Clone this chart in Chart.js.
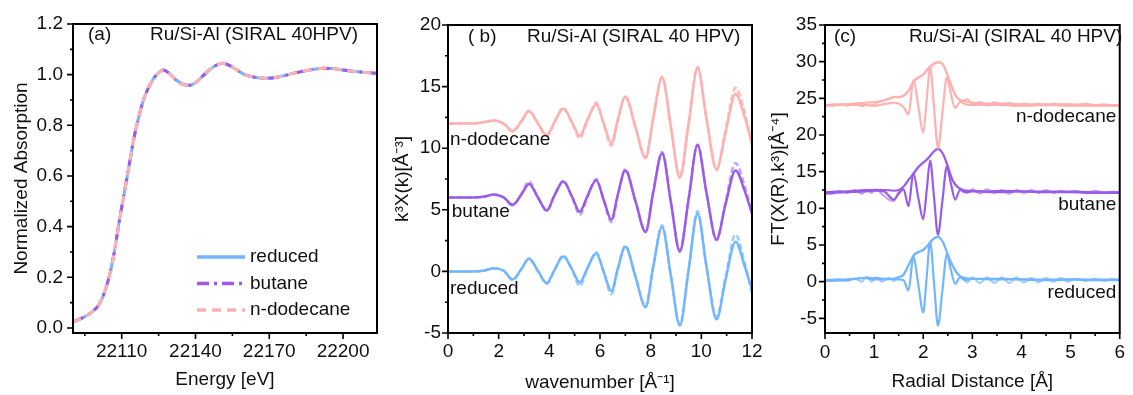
<!DOCTYPE html>
<html>
<head>
<meta charset="utf-8">
<script src="https://cdn.jsdelivr.net/npm/chart.js@4.4.1/dist/chart.umd.min.js"></script>
<style>
  body { margin: 0; background: #fff; width: 1133px; height: 395px; position: relative; overflow: hidden; }
  canvas { position: absolute; top: 0; }
</style>
</head>
<body>
<canvas id="chartA" width="380" height="395" style="left:0px"></canvas>
<canvas id="chartB" width="400" height="395" style="left:380px"></canvas>
<canvas id="chartC" width="373" height="395" style="left:760px"></canvas>
<script>
// ---- panel (a): XANES ----
const energy = [22090, 22093, 22096, 22099, 22101, 22103, 22105, 22107, 22109, 22111, 22113, 22115, 22117, 22119, 22121, 22123, 22125.5, 22127, 22129, 22132, 22135, 22137.5, 22140, 22143, 22146, 22149, 22151, 22154, 22157, 22160, 22164, 22168, 22172, 22176, 22180, 22184, 22188, 22192, 22196, 22200, 22204, 22208, 22214];
const muReduced  = [0.024, 0.035, 0.050, 0.072, 0.095, 0.140, 0.205, 0.300, 0.420, 0.530, 0.640, 0.750, 0.835, 0.905, 0.950, 0.985, 1.012, 1.018, 1.008, 0.980, 0.962, 0.958, 0.968, 0.995, 1.022, 1.040, 1.045, 1.036, 1.018, 1.000, 0.990, 0.986, 0.988, 0.996, 1.006, 1.014, 1.021, 1.025, 1.024, 1.018, 1.013, 1.010, 1.005];
const muButane   = [0.024, 0.035, 0.050, 0.072, 0.096, 0.141, 0.206, 0.301, 0.421, 0.531, 0.641, 0.750, 0.835, 0.905, 0.950, 0.985, 1.012, 1.018, 1.008, 0.980, 0.962, 0.958, 0.968, 0.995, 1.022, 1.040, 1.045, 1.036, 1.018, 1.000, 0.990, 0.986, 0.988, 0.996, 1.006, 1.014, 1.021, 1.025, 1.024, 1.018, 1.013, 1.010, 1.005];
const muDodecane = [0.024, 0.035, 0.050, 0.072, 0.095, 0.140, 0.205, 0.299, 0.419, 0.529, 0.640, 0.749, 0.835, 0.905, 0.950, 0.985, 1.012, 1.018, 1.008, 0.980, 0.962, 0.958, 0.968, 0.995, 1.022, 1.040, 1.045, 1.036, 1.018, 1.000, 0.990, 0.986, 0.988, 0.996, 1.006, 1.014, 1.021, 1.025, 1.024, 1.018, 1.013, 1.010, 1.005];
const eMajor = [22110, 22140, 22170, 22200];
const eMinor = [22095, 22125, 22155, 22185];
const muMajor = [0.0, 0.2, 0.4, 0.6, 0.8, 1.0, 1.2];
const muMinor = [0.1, 0.3, 0.5, 0.7, 0.9, 1.1];

// ---- panel (b): k^3 chi(k), offset by 0 / 6 / 12 ----
const kGrid = [0, 0.5, 1.0, 1.5, 1.8, 2.2, 2.55, 2.9, 3.2, 3.55, 3.9, 4.2, 4.55, 4.9, 5.2, 5.5, 5.85, 6.15, 6.45, 6.7, 7.0, 7.4, 7.8, 8.1, 8.45, 8.8, 9.15, 9.5, 9.85, 10.2, 10.6, 10.95, 11.35, 11.7, 12.0];
const chiReducedFit   = [0, 0, 0, 0.1, 0.25, 0.05, -0.65, 0.2, 1.05, 0.05, -0.95, 0.1, 1.2, 0.15, -0.9, 0.25, 1.45, -0.05, -1.6, 0.2, 2.0, -0.45, -2.9, 0.35, 3.6, -0.4, -4.4, 0.15, 4.7, 0.4, -3.9, -0.75, 2.4, 0.5, -1.5];
const chiReducedData  = [0, 0, 0, 0.1, 0.25, 0.05, -0.7, 0.2, 1.0, 0.0, -1.0, 0.1, 1.3, 0.1, -1.2, 0.2, 1.55, -0.1, -1.85, 0.15, 2.1, -0.4, -2.85, 0.4, 3.75, -0.35, -4.3, 0.2, 4.9, 0.5, -3.7, -0.5, 3.0, 0.8, -1.8];
const chiButaneFit    = [6.0, 6.0, 6.0, 6.1, 6.25, 6.0, 5.4, 6.25, 7.1, 6.0, 4.95, 6.15, 7.3, 6.05, 4.85, 6.1, 7.4, 5.8, 4.2, 6.2, 8.2, 5.7, 3.2, 6.4, 9.6, 5.6, 1.6, 5.9, 10.25, 6.4, 2.6, 5.4, 8.2, 6.6, 4.7];
const chiButaneData   = [6.0, 6.0, 6.0, 6.1, 6.25, 6.0, 5.35, 6.3, 7.3, 6.0, 4.9, 6.2, 7.35, 6.0, 4.6, 6.0, 7.5, 5.7, 4.0, 6.1, 8.3, 5.7, 3.25, 6.45, 9.7, 5.6, 1.7, 5.9, 10.3, 6.5, 2.5, 5.6, 8.8, 7.0, 4.8];
const chiDodecaneFit  = [12.0, 12.0, 12.0, 12.15, 12.25, 12.0, 11.4, 12.2, 13.0, 12.0, 11.05, 12.1, 13.2, 12.1, 11.0, 12.3, 13.55, 12.0, 10.4, 12.3, 14.15, 11.7, 9.2, 12.4, 15.75, 11.7, 7.6, 12.0, 16.5, 12.4, 8.3, 11.2, 14.4, 12.6, 10.4];
const chiDodecaneData = [12.0, 12.0, 12.0, 12.15, 12.25, 12.0, 11.35, 12.2, 13.05, 12.0, 11.0, 12.1, 13.3, 12.0, 10.8, 12.2, 13.7, 11.9, 10.2, 12.2, 14.2, 11.7, 9.25, 12.5, 15.8, 11.7, 7.7, 12.1, 16.6, 12.5, 8.2, 11.4, 14.9, 13.0, 10.2];
const kMajor = [0, 2, 4, 6, 8, 10, 12];
const kMinor = [1, 3, 5, 7, 9, 11];
const chiMajor = [-5, 0, 5, 10, 15, 20];
const chiMinor = [-2.5, 2.5, 7.5, 12.5, 17.5];

// ---- panel (c): FT, offset by 0 / 12 / 24 ----
const rMag = [0, 0.2, 0.4, 0.6, 0.8, 1.0, 1.2, 1.4, 1.5, 1.6, 1.7, 1.8, 1.9, 2.0, 2.1, 2.2, 2.3, 2.4, 2.5, 2.6, 2.7, 2.8, 3.0, 3.3, 3.6, 4.0, 4.5, 5.0, 5.5, 6.0];
const magReduced  = [0.2, 0.3, 0.3, 0.4, 0.5, 0.5, 0.4, 0.4, 0.6, 1.0, 2.2, 3.5, 4.0, 4.3, 5.0, 5.8, 6.1, 5.4, 3.7, 2.2, 1.1, 0.6, 0.4, 0.4, 0.4, 0.3, 0.3, 0.3, 0.3, 0.3];
const magButane   = [12.2, 12.3, 12.3, 12.4, 12.5, 12.5, 12.5, 12.4, 12.5, 13.0, 13.9, 14.7, 15.6, 16.2, 16.8, 17.6, 18.1, 17.4, 15.7, 13.8, 12.9, 12.5, 12.4, 12.3, 12.4, 12.3, 12.3, 12.3, 12.2, 12.2];
const magDodecane = [24.1, 24.2, 24.2, 24.3, 24.4, 24.5, 24.7, 25.1, 25.2, 25.3, 26.0, 27.2, 27.8, 28.2, 29.0, 29.6, 29.9, 29.6, 28.0, 26.2, 25.0, 24.7, 24.4, 24.3, 24.3, 24.2, 24.2, 24.2, 24.1, 24.1];
const rRe = [0, 0.4, 0.8, 1.0, 1.2, 1.4, 1.5, 1.6, 1.7, 1.8, 1.9, 2.0, 2.07, 2.14, 2.22, 2.3, 2.39, 2.48, 2.56, 2.65, 2.75, 2.85, 3.0, 3.5, 4.0, 4.5, 5.0, 5.5, 6.0];
const reReduced  = [0.1, 0.2, 0.5, 0.3, 0.3, 0.4, 0.3, 0.2, -1.2, 3.4, -0.4, -4.2, 0.6, 5.5, -0.2, -6.0, -1.2, 3.7, 1.7, -0.3, 0.6, 0.2, 0.4, 0.3, 0.3, 0.2, 0.3, 0.2, 0.2];
const reButane   = [12.0, 12.2, 12.3, 12.4, 12.3, 11.2, 12.0, 12.6, 10.3, 14.8, 11.4, 8.5, 12.4, 16.5, 11.5, 6.4, 11.0, 15.7, 13.5, 11.2, 12.5, 12.2, 12.3, 12.2, 12.3, 12.2, 12.2, 12.1, 12.1];
const reDodecane = [24.0, 24.1, 24.1, 24.0, 24.2, 24.4, 24.3, 23.8, 22.8, 27.5, 23.9, 20.3, 24.8, 29.3, 23.7, 18.2, 23.0, 27.8, 25.7, 23.7, 24.5, 24.2, 24.1, 24.1, 24.0, 24.1, 24.0, 24.0, 24.0];
const rRip = [0, 0.15, 0.3, 0.45, 0.6, 0.75, 0.85, 0.95, 1.05, 1.15, 1.3, 1.4, 1.5, 1.6, 1.7, 1.8, 1.9, 2.0, 2.1, 2.2, 2.3, 2.4, 2.5, 2.6, 2.7, 2.8, 2.9, 3.0, 3.15, 3.3, 3.45, 3.6, 3.75, 3.9, 4.05, 4.2, 4.35, 4.5, 4.65, 4.8, 4.95, 5.1, 5.3, 5.5, 5.7, 5.85, 6.0];
const ripReduced  = [0.2, 0.1, 0.3, 0.1, 0.4, 0.0, 0.7, 0.0, 0.6, 0.0, 0.5, 0.1, 0.6, 0.9, 2.3, 3.6, 4.1, 4.4, 5.0, 5.8, 6.2, 5.4, 3.7, 2.1, 1.0, 0.5, -0.1, 0.6, -0.2, 0.6, -0.2, 0.6, -0.2, 0.6, -0.1, 0.5, -0.1, 0.5, 0.0, 0.5, 0.0, 0.4, 0.1, 0.4, 0.1, 0.4, 0.2];
const ripButane   = [12.2, 12.0, 12.4, 12.1, 12.5, 12.0, 12.5, 12.1, 12.6, 12.0, 11.2, 11.0, 12.3, 12.9, 13.8, 14.8, 15.7, 16.3, 16.9, 17.7, 18.2, 17.5, 15.8, 13.8, 12.9, 12.6, 12.1, 12.6, 12.0, 12.6, 12.1, 12.5, 12.0, 12.5, 12.1, 12.5, 12.1, 12.5, 12.1, 12.4, 12.2, 12.4, 12.1, 12.4, 12.1, 12.3, 12.1];
const ripDodecane = [24.1, 24.0, 24.2, 24.0, 24.3, 23.9, 24.2, 24.0, 24.4, 24.6, 25.0, 25.2, 25.1, 25.4, 26.1, 27.3, 27.9, 28.3, 29.1, 29.7, 30.0, 29.7, 28.1, 26.3, 25.0, 24.6, 24.9, 24.2, 24.5, 24.0, 24.5, 24.1, 24.4, 24.0, 24.3, 24.1, 24.3, 24.0, 24.3, 24.1, 24.2, 24.0, 24.3, 24.1, 24.2, 24.0, 24.1];
const rMajor = [0, 1, 2, 3, 4, 5, 6];
const rMinor = [0.5, 1.5, 2.5, 3.5, 4.5, 5.5];
const ftMajor = [-5, 0, 5, 10, 15, 20, 25, 30, 35];
const ftMinor = [-2.5, 2.5, 7.5, 12.5, 17.5, 22.5, 27.5, 32.5];

const FONT = '"Liberation Sans", Arial, sans-serif';
const TXT = '#111';
const BLUE = '#72b6ff', PURPLE = '#9a5ce8', PINK = '#ffb0b0';
const BLUE_D = 'rgba(114,182,255,0.7)', PURPLE_D = 'rgba(154,92,232,0.6)', PINK_D = 'rgba(255,170,170,0.8)';

function pts(xs, ys) { return xs.map((x, i) => ({x: x, y: ys[i]})); }

function axis(o) {
  return {
    type: 'linear',
    position: o.position,
    min: o.min,
    max: o.max,
    grid: {display: false, drawTicks: false},
    border: {display: false},
    ticks: {font: {family: FONT, size: 19}, color: TXT, padding: o.pad, autoSkip: false, maxRotation: 0,
            callback: o.fmt || (v => String(v))},
    title: {display: true, text: o.title, color: TXT, font: {family: FONT, size: 19}, padding: o.titlePad},
    afterBuildTicks: s => { s.ticks = o.major.map(v => ({value: v})); },
    afterFit: s => { if (o.position === 'left') s.width = o.size; else s.height = o.size; }
  };
}

const framePlugin = {
  id: 'frame',
  afterDatasetsDraw(chart, args, opts) {
    const {ctx, chartArea: a} = chart;
    const sx = chart.scales.x, sy = chart.scales.y;
    ctx.save();
    ctx.strokeStyle = '#000';
    ctx.lineWidth = 2;
    ctx.strokeRect(a.left, a.top, a.right - a.left, a.bottom - a.top);
    ctx.lineWidth = 1.6;
    ctx.beginPath();
    const tick = (list, len, horiz) => list.forEach(v => {
      if (horiz) { const p = sx.getPixelForValue(v); ctx.moveTo(p, a.bottom); ctx.lineTo(p, a.bottom + len); }
      else { const p = sy.getPixelForValue(v); ctx.moveTo(a.left, p); ctx.lineTo(a.left - len, p); }
    });
    tick(opts.xMajor, 6, true); tick(opts.xMinor, 3, true);
    tick(opts.yMajor, 6, false); tick(opts.yMinor, 3, false);
    ctx.stroke();
    ctx.restore();
  }
};

const notesPlugin = {
  id: 'notes',
  afterDraw(chart, args, opts) {
    const ctx = chart.ctx;
    ctx.save();
    ctx.fillStyle = TXT;
    ctx.textBaseline = 'middle';
    ctx.font = '19px ' + FONT;
    (opts.items || []).forEach(it => {
      let x = it.x, y = it.y;
      if (it.data) { x = chart.scales.x.getPixelForValue(it.x); y = chart.scales.y.getPixelForValue(it.y); }
      ctx.textAlign = it.align || 'left';
      ctx.fillText(it.text, x, y);
    });
    if (opts.legend) {
      const L = opts.legend;
      L.order.forEach((di, row) => {
        const ds = chart.data.datasets[di];
        const y = L.y + row * L.gap;
        ctx.save();
        ctx.strokeStyle = ds.borderColor;
        ctx.lineWidth = ds.borderWidth + 0.5;
        ctx.setLineDash(ds.borderDash || []);
        ctx.beginPath(); ctx.moveTo(L.x, y); ctx.lineTo(L.x + L.len, y); ctx.stroke();
        ctx.restore();
        ctx.textAlign = 'left';
        ctx.fillText(ds.label, L.x + L.len + 5, y);
      });
    }
    ctx.restore();
  }
};

function baseOptions(pad, scales, frame, notes) {
  return {
    responsive: false,
    animation: false,
    devicePixelRatio: 1,
    events: [],
    layout: {padding: pad},
    elements: {point: {radius: 0}, line: {cubicInterpolationMode: 'monotone', fill: false}},
    scales: scales,
    plugins: {legend: {display: false}, tooltip: {enabled: false}, frame: frame, notes: notes}
  };
}

// panel (a)
new Chart(document.getElementById('chartA'), {
  type: 'line',
  data: {datasets: [
    {label: 'reduced', data: pts(energy, muReduced), borderColor: BLUE, borderWidth: 3, order: 3},
    {label: 'butane', data: pts(energy, muButane), borderColor: PURPLE, borderWidth: 3, borderDash: [12, 5, 3, 5], order: 2},
    {label: 'n-dodecane', data: pts(energy, muDodecane), borderColor: PINK, borderWidth: 3, borderDash: [9, 6], order: 1}
  ]},
  options: baseOptions({top: 24, right: 3, left: 0, bottom: 0}, {
    x: axis({position: 'bottom', min: 22090.2, max: 22213.8, major: eMajor, pad: 7, size: 62,
             title: 'Energy [eV]', titlePad: {top: 0, bottom: 4}}),
    y: axis({position: 'left', min: -0.02, max: 1.2, major: muMajor, pad: 10, size: 73, fmt: v => v.toFixed(1),
             title: 'Normalized Absorption', titlePad: {top: 10, bottom: 0}})
  }, {xMajor: eMajor, xMinor: eMinor, yMajor: muMajor, yMinor: muMinor}, {
    items: [{text: '(a)', x: 88, y: 35}, {text: 'Ru/Si-Al (SIRAL 40HPV)', x: 150, y: 35}],
    legend: {x: 197, y: 257, gap: 26.5, len: 48, order: [0, 1, 2]}
  }),
  plugins: [framePlugin, notesPlugin]
});

// panel (b)
new Chart(document.getElementById('chartB'), {
  type: 'line',
  data: {datasets: [
    {label: 'reduced data', data: pts(kGrid, chiReducedData), borderColor: BLUE_D, borderWidth: 2.5, borderDash: [6, 3], order: 2},
    {label: 'reduced fit', data: pts(kGrid, chiReducedFit), borderColor: BLUE, borderWidth: 2.5, order: 1},
    {label: 'butane data', data: pts(kGrid, chiButaneData), borderColor: PURPLE_D, borderWidth: 2.5, borderDash: [6, 3], order: 2},
    {label: 'butane fit', data: pts(kGrid, chiButaneFit), borderColor: PURPLE, borderWidth: 2.5, order: 1},
    {label: 'n-dodecane data', data: pts(kGrid, chiDodecaneData), borderColor: PINK_D, borderWidth: 2.5, borderDash: [6, 3], order: 2},
    {label: 'n-dodecane fit', data: pts(kGrid, chiDodecaneFit), borderColor: PINK, borderWidth: 2.5, order: 1}
  ]},
  options: baseOptions({top: 25, right: 28, left: 0, bottom: 0}, {
    x: axis({position: 'bottom', min: 0, max: 12, major: kMajor, pad: 7, size: 62,
             title: 'wavenumber [Å⁻¹]', titlePad: {top: 0, bottom: 1}}),
    y: axis({position: 'left', min: -5, max: 20, major: chiMajor, pad: 7, size: 68,
             title: 'k³X(k)[Å⁻³]', titlePad: {top: 11, bottom: 0}})
  }, {xMajor: kMajor, xMinor: kMinor, yMajor: chiMajor, yMinor: chiMinor}, {
    items: [
      {text: '( b)', x: 88, y: 37}, {text: 'Ru/Si-Al (SIRAL 40 HPV)', x: 147, y: 37},
      {text: 'n-dodecane', x: 0.08, y: 10.67, data: true},
      {text: 'butane', x: 0.15, y: 4.82, data: true},
      {text: 'reduced', x: 0.08, y: -1.43, data: true}
    ]
  }),
  plugins: [framePlugin, notesPlugin]
});

// panel (c)
new Chart(document.getElementById('chartC'), {
  type: 'line',
  data: {datasets: [
    {label: 'reduced |FT| data', data: pts(rRip, ripReduced), borderColor: BLUE_D, borderWidth: 2, order: 3},
    {label: 'reduced |FT| fit', data: pts(rMag, magReduced), borderColor: BLUE, borderWidth: 2, order: 2},
    {label: 'reduced Re fit', data: pts(rRe, reReduced), borderColor: BLUE, borderWidth: 2.2, order: 1},
    {label: 'butane |FT| data', data: pts(rRip, ripButane), borderColor: PURPLE_D, borderWidth: 2, order: 3},
    {label: 'butane |FT| fit', data: pts(rMag, magButane), borderColor: PURPLE, borderWidth: 2, order: 2},
    {label: 'butane Re fit', data: pts(rRe, reButane), borderColor: PURPLE, borderWidth: 2.2, order: 1},
    {label: 'n-dodecane |FT| data', data: pts(rRip, ripDodecane), borderColor: PINK_D, borderWidth: 2, order: 3},
    {label: 'n-dodecane |FT| fit', data: pts(rMag, magDodecane), borderColor: PINK, borderWidth: 2, order: 2},
    {label: 'n-dodecane Re fit', data: pts(rRe, reDodecane), borderColor: PINK, borderWidth: 2.2, order: 1}
  ]},
  options: baseOptions({top: 25, right: 6, left: 0, bottom: 0}, {
    x: axis({position: 'bottom', min: 0, max: 6, major: rMajor, pad: 8, size: 62,
             title: 'Radial Distance [Å]', titlePad: {top: 0, bottom: 2}}),
    y: axis({position: 'left', min: -7, max: 35, major: ftMajor, pad: 8, size: 65,
             title: 'FT(X(R).k³)[Å⁻⁴]', titlePad: {top: 7, bottom: 0}})
  }, {xMajor: rMajor, xMinor: rMinor, yMajor: ftMajor, yMinor: ftMinor}, {
    items: [
      {text: '(c)', x: 74, y: 37}, {text: 'Ru/Si-Al (SIRAL 40 HPV)', x: 149, y: 37},
      {text: 'n-dodecane', x: 5.93, y: 22.45, data: true, align: 'right'},
      {text: 'butane', x: 5.93, y: 10.5, data: true, align: 'right'},
      {text: 'reduced', x: 5.93, y: -1.5, data: true, align: 'right'}
    ]
  }),
  plugins: [framePlugin, notesPlugin]
});
</script>
</body>
</html>
